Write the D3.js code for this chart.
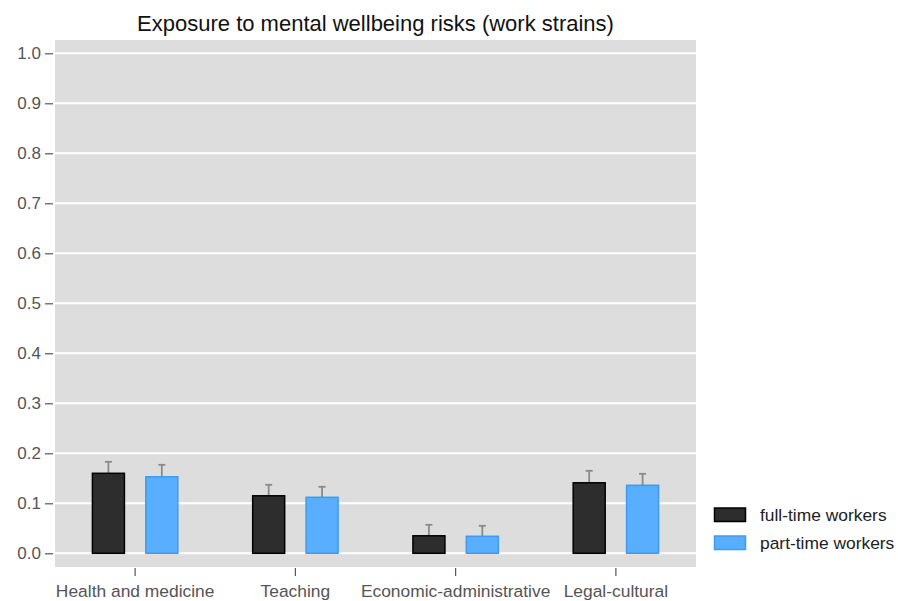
<!DOCTYPE html>
<html>
<head>
<meta charset="utf-8">
<script src="https://cdn.jsdelivr.net/npm/d3@7"></script>
<style>
  html, body { margin: 0; padding: 0; background: #fff; }
  svg { display: block; font-family: "Liberation Sans", Arial, sans-serif; }
</style>
</head>
<body>
<svg id="chart" width="898" height="601"></svg>
<script>
// Occupational groups along the x axis
const categories = ["Health and medicine", "Teaching", "Economic-administrative", "Legal-cultural"];
// Series names shown in the legend
const seriesNames = ["full-time workers", "part-time workers"];
// Share exposed, per group
const fullTime = [0.160, 0.115, 0.035, 0.141];
const partTime = [0.153, 0.112, 0.034, 0.136];
// Upper ends of the confidence intervals
const fullTimeUpper = [0.183, 0.137, 0.057, 0.165];
const partTimeUpper = [0.177, 0.133, 0.055, 0.159];
// Y axis ticks
const yTicks = [0.0, 0.1, 0.2, 0.3, 0.4, 0.5, 0.6, 0.7, 0.8, 0.9, 1.0];

const series = [
  { name: seriesNames[0], values: fullTime, upper: fullTimeUpper, fill: "#2d2d2d", stroke: "#000000" },
  { name: seriesNames[1], values: partTime, upper: partTimeUpper, fill: "#5aaeff", stroke: "#3d9cf2" }
];

const svg = d3.select("#chart");
const panel = { left: 55, right: 696, top: 40, bottom: 567 };

const x = d3.scaleBand().domain(categories).range([panel.left, panel.right]).padding(0);
const y = d3.scaleLinear().domain([0, 1]).range([553.3, 53.3]);
const barW = 32;
const offsets = [-26.7, 26.7];

// Panel background
svg.append("rect")
  .attr("x", panel.left).attr("y", panel.top)
  .attr("width", panel.right - panel.left).attr("height", panel.bottom - panel.top)
  .attr("fill", "#dddddd");

// Horizontal gridlines
svg.append("g").selectAll("line").data(yTicks).join("line")
  .attr("x1", panel.left).attr("x2", panel.right)
  .attr("y1", d => y(d)).attr("y2", d => y(d))
  .attr("stroke", "#ffffff").attr("stroke-width", 2);

// Y axis: ticks and labels, no domain line
const yAxis = svg.append("g")
  .attr("transform", `translate(${panel.left - 2},0)`)
  .call(d3.axisLeft(y).tickValues(yTicks).tickFormat(d3.format(".1f")).tickSize(8).tickPadding(4));
yAxis.select(".domain").remove();
yAxis.selectAll(".tick line").attr("stroke", "#555555").attr("stroke-width", 1.2);
yAxis.selectAll(".tick text").attr("fill", "#555555").attr("font-size", 17)
  .attr("font-family", "'Liberation Sans', Arial, sans-serif");

// X axis: ticks at group centres, labels below
const xAxis = svg.append("g")
  .attr("transform", `translate(0,${panel.bottom + 1})`)
  .call(d3.axisBottom(x).tickSize(8).tickPadding(0));
xAxis.select(".domain").remove();
xAxis.selectAll(".tick line").attr("stroke", "#555555").attr("stroke-width", 1.2);
xAxis.selectAll(".tick text").attr("fill", "#555555").attr("font-size", 17.4)
  .attr("font-family", "'Liberation Sans', Arial, sans-serif")
  .attr("dy", null).attr("y", 29);

// Error bars (drawn first so the bars cover their lower halves)
series.forEach((s, si) => {
  const g = svg.append("g");
  categories.forEach((c, i) => {
    const cx = x(c) + x.bandwidth() / 2 + offsets[si];
    g.append("line")
      .attr("x1", cx).attr("x2", cx)
      .attr("y1", y(s.values[i] - (s.upper[i] - s.values[i]))).attr("y2", y(s.upper[i]))
      .attr("stroke", "#8a8a8a").attr("stroke-width", 1.8);
    g.append("line")
      .attr("x1", cx - 3.5).attr("x2", cx + 3.5)
      .attr("y1", y(s.upper[i])).attr("y2", y(s.upper[i]))
      .attr("stroke", "#8a8a8a").attr("stroke-width", 1.8);
  });
});

// Bars
series.forEach((s, si) => {
  svg.append("g").selectAll("rect").data(categories).join("rect")
    .attr("x", c => x(c) + x.bandwidth() / 2 + offsets[si] - barW / 2)
    .attr("y", (c, i) => y(s.values[i]))
    .attr("width", barW)
    .attr("height", (c, i) => y(0) - y(s.values[i]))
    .attr("fill", s.fill)
    .attr("stroke", s.stroke).attr("stroke-width", 1.5);
});

// Title
svg.append("text")
  .attr("x", (panel.left + panel.right) / 2).attr("y", 31)
  .attr("text-anchor", "middle")
  .attr("font-size", 22).attr("fill", "#111111")
  .text("Exposure to mental wellbeing risks (work strains)");

// Legend
const legend = svg.append("g");
series.forEach((s, si) => {
  const ly = 508 + si * 28;
  legend.append("rect")
    .attr("x", 714.5).attr("y", ly)
    .attr("width", 31).attr("height", 13.5)
    .attr("fill", s.fill).attr("stroke", s.stroke).attr("stroke-width", 1.5);
  legend.append("text")
    .attr("x", 760).attr("y", ly + 13)
    .attr("font-size", 17.4).attr("fill", "#222222")
    .text(s.name);
});
</script>
</body>
</html>
